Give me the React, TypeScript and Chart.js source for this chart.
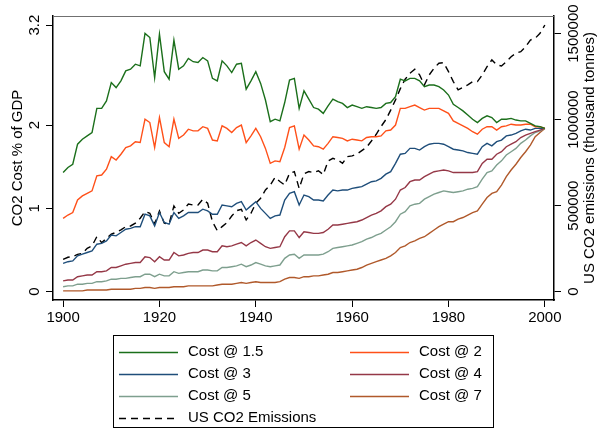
import React, { useEffect, useRef } from "react";
import { Chart, registerables } from "chart.js";

Chart.register(...registerables);

const years = [
  1900, 1901, 1902, 1903, 1904, 1905, 1906, 1907, 1908, 1909,
  1910, 1911, 1912, 1913, 1914, 1915, 1916, 1917, 1918, 1919,
  1920, 1921, 1922, 1923, 1924, 1925, 1926, 1927, 1928, 1929,
  1930, 1931, 1932, 1933, 1934, 1935, 1936, 1937, 1938, 1939,
  1940, 1941, 1942, 1943, 1944, 1945, 1946, 1947, 1948, 1949,
  1950, 1951, 1952, 1953, 1954, 1955, 1956, 1957, 1958, 1959,
  1960, 1961, 1962, 1963, 1964, 1965, 1966, 1967, 1968, 1969,
  1970, 1971, 1972, 1973, 1974, 1975, 1976, 1977, 1978, 1979,
  1980, 1981, 1982, 1983, 1984, 1985, 1986, 1987, 1988, 1989,
  1990, 1991, 1992, 1993, 1994, 1995, 1996, 1997, 1998, 1999,
  2000,
];

const cost15 = [
  1.43, 1.49, 1.53, 1.77, 1.83, 1.87, 1.91, 2.2, 2.2, 2.29,
  2.51, 2.45, 2.53, 2.65, 2.67, 2.73, 2.71, 3.1, 3.05, 2.57,
  3.09, 2.64, 2.55, 3.02, 2.67, 2.71, 2.8, 2.76, 2.75, 2.81,
  2.77, 2.56, 2.53, 2.77, 2.71, 2.63, 2.73, 2.74, 2.43, 2.53,
  2.64, 2.5, 2.3, 2.04, 2.07, 2.05, 2.27, 2.54, 2.56, 2.2,
  2.41, 2.31, 2.21, 2.19, 2.14, 2.23, 2.31, 2.28, 2.26, 2.21,
  2.24, 2.22, 2.2, 2.22, 2.21, 2.2, 2.21, 2.26, 2.27, 2.34,
  2.55, 2.53, 2.56, 2.56, 2.53, 2.46, 2.48, 2.48, 2.46, 2.42,
  2.36, 2.25, 2.21, 2.17, 2.12, 2.07, 2.03, 2.08, 2.11, 2.09,
  2.03, 2.07, 2.07, 2.08, 2.06, 2.05, 2.05, 2.02, 1.99, 1.98,
  1.96,
];

const cost2 = [
  0.88, 0.92, 0.95, 1.1, 1.15, 1.18, 1.21, 1.39, 1.4, 1.47,
  1.62, 1.58, 1.65, 1.73, 1.75, 1.8, 1.79, 2.07, 2.03, 1.73,
  2.09, 1.79, 1.74, 2.07, 1.84, 1.88, 1.95, 1.93, 1.93, 1.98,
  1.96, 1.82, 1.81, 1.99, 1.96, 1.91, 1.97, 2.0, 1.79, 1.87,
  1.96, 1.86, 1.72, 1.54, 1.57, 1.56, 1.73, 1.97, 1.99, 1.71,
  1.88, 1.82, 1.75, 1.74, 1.71, 1.78, 1.86, 1.85, 1.84, 1.81,
  1.83, 1.82, 1.81, 1.85, 1.86, 1.86, 1.87, 1.93, 1.94, 2.0,
  2.2, 2.2, 2.22, 2.24, 2.21, 2.18, 2.2, 2.2, 2.2, 2.17,
  2.14, 2.05, 2.02, 1.99, 1.96, 1.92, 1.89, 1.95, 1.98, 1.98,
  1.94, 1.98, 1.99, 2.01, 2.0, 2.0, 2.01, 2.01, 1.98, 1.98,
  1.96,
];

const cost3 = [
  0.34, 0.36, 0.37, 0.43, 0.45, 0.47, 0.49, 0.57, 0.58, 0.61,
  0.68, 0.67, 0.71, 0.75, 0.76, 0.78, 0.78, 0.93, 0.91, 0.79,
  0.95, 0.83, 0.81, 0.95, 0.88, 0.91, 0.95, 0.95, 0.95, 0.99,
  0.97, 0.93, 0.93, 1.04, 1.03, 1.02, 1.06, 1.08, 0.98, 1.03,
  1.08, 1.0, 0.94, 0.88, 0.91, 0.92, 1.1, 1.18, 1.2, 1.04,
  1.16, 1.14, 1.1, 1.1, 1.09, 1.16, 1.22, 1.21, 1.22, 1.22,
  1.24, 1.25, 1.26, 1.29, 1.32, 1.33, 1.36, 1.41, 1.44, 1.54,
  1.65, 1.66, 1.72, 1.72, 1.7, 1.74, 1.77, 1.78, 1.78, 1.77,
  1.74, 1.71, 1.7, 1.69, 1.67, 1.66, 1.65, 1.74, 1.78, 1.75,
  1.8, 1.82, 1.87, 1.88, 1.9, 1.93, 1.95, 1.94, 1.96, 1.96,
  1.96,
];

const cost4 = [
  0.13, 0.14, 0.14, 0.18, 0.19, 0.2, 0.2, 0.24, 0.24, 0.25,
  0.29, 0.29, 0.31, 0.33, 0.34, 0.35, 0.35, 0.42, 0.41, 0.36,
  0.42, 0.38, 0.38, 0.47, 0.43, 0.44, 0.46, 0.47, 0.47, 0.5,
  0.5, 0.48, 0.48, 0.55, 0.54, 0.55, 0.57, 0.59, 0.55, 0.59,
  0.62, 0.58, 0.54, 0.52, 0.53, 0.54, 0.66, 0.73, 0.73, 0.65,
  0.72, 0.71, 0.7, 0.7, 0.71, 0.75, 0.8, 0.8, 0.81, 0.82,
  0.83, 0.84, 0.86, 0.89, 0.92, 0.94, 0.97, 1.02, 1.05, 1.11,
  1.22, 1.25, 1.32, 1.34, 1.34, 1.38, 1.41, 1.44, 1.45, 1.46,
  1.45, 1.43, 1.43, 1.43, 1.43, 1.43, 1.44, 1.54, 1.59, 1.59,
  1.65, 1.68, 1.74, 1.77, 1.8, 1.85, 1.88, 1.9, 1.92, 1.94,
  1.96,
];

const cost5 = [
  0.06, 0.07, 0.07, 0.09, 0.09, 0.1, 0.1, 0.12, 0.12, 0.13,
  0.15, 0.15, 0.16, 0.16, 0.17, 0.18, 0.18, 0.21, 0.21, 0.18,
  0.21, 0.19, 0.19, 0.24, 0.22, 0.23, 0.24, 0.24, 0.24, 0.26,
  0.26, 0.25, 0.25, 0.29, 0.29, 0.3, 0.31, 0.33, 0.3, 0.32,
  0.35, 0.33, 0.31, 0.3, 0.31, 0.32, 0.4, 0.44, 0.45, 0.4,
  0.44, 0.44, 0.44, 0.44, 0.45, 0.48, 0.52, 0.53, 0.54, 0.55,
  0.56, 0.58, 0.6, 0.63, 0.65, 0.68, 0.7, 0.74, 0.78, 0.84,
  0.93, 0.96, 1.03, 1.05, 1.06, 1.11, 1.14, 1.17, 1.19, 1.21,
  1.2, 1.19, 1.2, 1.21, 1.23, 1.24, 1.26, 1.35, 1.43, 1.45,
  1.52, 1.57, 1.64, 1.68, 1.72, 1.78, 1.82, 1.87, 1.91, 1.93,
  1.96,
];

const cost7 = [
  0.01, 0.01, 0.01, 0.01, 0.01, 0.02, 0.02, 0.02, 0.02, 0.02,
  0.03, 0.03, 0.03, 0.03, 0.03, 0.04, 0.04, 0.05, 0.05, 0.04,
  0.05, 0.05, 0.05, 0.06, 0.06, 0.06, 0.07, 0.07, 0.07, 0.07,
  0.07, 0.07, 0.08, 0.09, 0.09, 0.09, 0.1, 0.11, 0.1, 0.11,
  0.12, 0.11, 0.11, 0.11, 0.11, 0.12, 0.15, 0.17, 0.17, 0.16,
  0.18, 0.18, 0.19, 0.19, 0.2, 0.21, 0.23, 0.23, 0.24, 0.25,
  0.26, 0.27, 0.29, 0.32, 0.34, 0.36, 0.38, 0.4, 0.43, 0.47,
  0.53, 0.55, 0.59, 0.61, 0.64, 0.66, 0.7, 0.74, 0.78, 0.81,
  0.84, 0.84, 0.87, 0.89, 0.92, 0.95, 0.97, 1.05, 1.13, 1.18,
  1.2, 1.28, 1.38, 1.46, 1.53, 1.61, 1.68, 1.76, 1.86, 1.91,
  1.96,
];

const emissions = [
  188000, 200000, 204000, 217000, 223000, 252000, 266000, 320000, 285000, 310000,
  334000, 345000, 359000, 378000, 382000, 398000, 427000, 465000, 456000, 394000,
  469000, 398000, 394000, 498000, 456000, 475000, 510000, 504000, 504000, 537000,
  514000, 407000, 355000, 378000, 401000, 440000, 471000, 479000, 417000, 456000,
  514000, 543000, 591000, 620000, 665000, 640000, 620000, 688000, 698000, 600000,
  685000, 698000, 692000, 703000, 680000, 760000, 775000, 766000, 746000, 785000,
  789000, 800000, 820000, 840000, 876000, 915000, 960000, 1000000, 1055000, 1115000,
  1180000, 1235000, 1270000, 1293000, 1260000, 1202000, 1260000, 1299000, 1328000, 1331000,
  1279000, 1221000, 1173000, 1188000, 1202000, 1221000, 1221000, 1260000, 1308000, 1347000,
  1318000, 1312000, 1337000, 1366000, 1386000, 1395000, 1424000, 1463000, 1473000, 1502000,
  1550000,
];

const xTicks = [1900, 1920, 1940, 1960, 1980, 2000];
const leftTicks = [0, 1, 2, 3.2];
const rightTicks = [0, 500000, 1000000, 1500000];
const seriesLabels = [
  "Cost @ 1.5",
  "Cost @ 2",
  "Cost @ 3",
  "Cost @ 4",
  "Cost @ 5",
  "Cost @ 7",
  "US CO2 Emissions",
];
const leftTitle = "CO2 Cost % of GDP";
const rightTitle = "US CO2 emissions (thousand tonnes)";

const FONT = '"Liberation Sans", Arial, Helvetica, sans-serif';
const COLORS = ["#1b6f1b", "#ff5019", "#1f4e7a", "#953847", "#7e9f8e", "#b0592b", "#000000"];

const pairs = (vals: number[]) => years.map((yr, i) => ({ x: yr, y: vals[i] }));

const decorPlugin = {
  id: "decor",
  afterDraw(chart: any) {
    const { ctx, chartArea: a, scales } = chart;
    ctx.save();
    // top frame line
    ctx.strokeStyle = "#707070";
    ctx.lineWidth = 1;
    ctx.beginPath();
    ctx.moveTo(a.left, Math.round(a.top) + 0.5);
    ctx.lineTo(a.right, Math.round(a.top) + 0.5);
    ctx.stroke();

    ctx.fillStyle = "#000";
    ctx.font = `15px ${FONT}`;
    ctx.textAlign = "center";
    ctx.textBaseline = "middle";
    const rot = (text: string, x: number, y: number) => {
      ctx.save();
      ctx.translate(x, y);
      ctx.rotate(-Math.PI / 2);
      ctx.fillText(text, 0, 0);
      ctx.restore();
    };
    const yl = scales.y;
    yl.ticks.forEach((t: any) => rot(String(t.value), 35, yl.getPixelForValue(t.value)));
    const yr = scales.y1;
    yr.ticks.forEach((t: any) => rot(String(t.value), 574, yr.getPixelForValue(t.value)));
    const midY = (a.top + a.bottom) / 2;
    rot(leftTitle, 18, midY);
    rot(rightTitle, 590, midY);

    // legend box
    const bx = 113, by = 335, bw = 380, bh = 92;
    ctx.strokeStyle = "#000";
    ctx.lineWidth = 1;
    ctx.strokeRect(bx + 0.5, by + 0.5, bw, bh);
    const colX = [119, 350];
    const lineLen = 59;
    ctx.textAlign = "left";
    chart.data.datasets.forEach((ds: any, i: number) => {
      const row = Math.floor(i / 2);
      const col = i % 2;
      const x0 = colX[col];
      const yc = 352 + row * 22;
      ctx.save();
      ctx.strokeStyle = ds.borderColor;
      ctx.lineWidth = ds.borderWidth;
      ctx.setLineDash(ds.borderDash || []);
      ctx.beginPath();
      ctx.moveTo(x0, yc + 0.5);
      ctx.lineTo(x0 + lineLen, yc + 0.5);
      ctx.stroke();
      ctx.restore();
      ctx.fillStyle = "#000";
      ctx.fillText(ds.label, x0 + 69, yc);
    });
    ctx.restore();
  },
};

export default function App() {
  const ref = useRef<HTMLCanvasElement | null>(null);
  useEffect(() => {
    if (!ref.current) return;
    const seriesVals = [cost15, cost2, cost3, cost4, cost5, cost7];
    const datasets: any[] = seriesVals.map((vals, i) => ({
      label: seriesLabels[i],
      data: pairs(vals),
      borderColor: COLORS[i],
      backgroundColor: COLORS[i],
      borderWidth: 1.4,
      pointRadius: 0,
      tension: 0,
      yAxisID: "y",
    }));
    datasets.push({
      label: seriesLabels[6],
      data: pairs(emissions),
      borderColor: COLORS[6],
      backgroundColor: COLORS[6],
      borderWidth: 1.4,
      borderDash: [7, 5],
      pointRadius: 0,
      tension: 0,
      yAxisID: "y1",
    });
    const gridOpts = (len: number) => ({
      drawOnChartArea: false,
      drawTicks: true,
      tickLength: len,
      color: "#000",
      lineWidth: 1,
    });
    const chart = new Chart(ref.current, {
      type: "line",
      data: { datasets },
      plugins: [decorPlugin],
      options: {
        responsive: false,
        animation: false,
        layout: { padding: { top: 16, left: 0, right: 0, bottom: 0 } },
        plugins: { legend: { display: false }, tooltip: { enabled: false } },
        scales: {
          x: {
            type: "linear",
            min: 1897.9,
            max: 2001.9,
            bounds: "data",
            afterBuildTicks: (s: any) => {
              s.ticks = xTicks.map((v) => ({ value: v }));
            },
            afterFit: (s: any) => {
              s.height = 133;
            },
            grid: gridOpts(7),
            border: { display: true, color: "#000", width: 1.5 },
            ticks: {
              color: "#000",
              font: { family: FONT, size: 15 },
              padding: 2,
              maxRotation: 0,
              minRotation: 0,
              autoSkip: false,
              callback: (v: any) => String(v),
            },
          },
          y: {
            type: "linear",
            position: "left",
            min: -0.0996,
            max: 3.3085,
            bounds: "data",
            afterBuildTicks: (s: any) => {
              s.ticks = leftTicks.map((v) => ({ value: v }));
            },
            afterFit: (s: any) => {
              s.width = 53;
            },
            grid: gridOpts(7),
            border: { display: true, color: "#000", width: 1.5 },
            ticks: { display: false },
          },
          y1: {
            type: "linear",
            position: "right",
            min: -48260,
            max: 1602300,
            bounds: "data",
            afterBuildTicks: (s: any) => {
              s.ticks = rightTicks.map((v) => ({ value: v }));
            },
            afterFit: (s: any) => {
              s.width = 51;
            },
            grid: gridOpts(7),
            border: { display: true, color: "#000", width: 1.5 },
            ticks: { display: false },
          },
        },
      },
    } as any);
    return () => chart.destroy();
  }, []);
  return (
    <canvas
      ref={ref}
      width={605}
      height={433}
      style={{ position: "absolute", left: 0, top: 0, display: "block", background: "#fff" }}
    />
  );
}
